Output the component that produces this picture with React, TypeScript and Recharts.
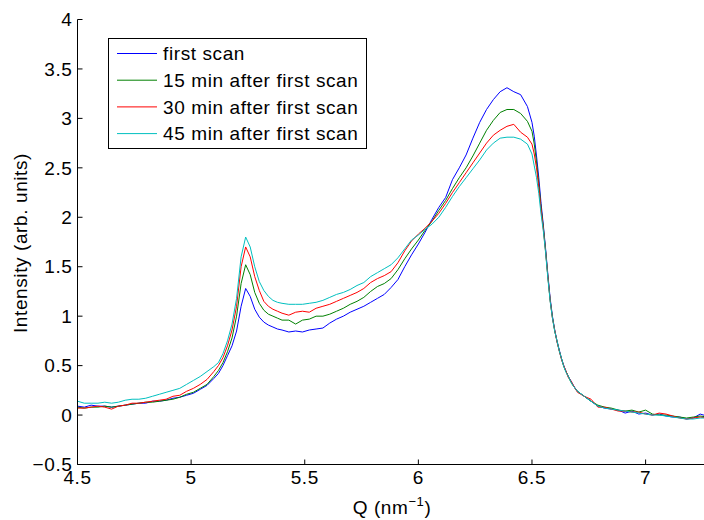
import { LineChart, Line, XAxis, YAxis, Legend } from 'recharts';

// Q grid (nm^-1), finer around the two peaks
const q = [
  4.5, 4.53, 4.56, 4.59, 4.62, 4.65, 4.68, 4.71, 4.74, 4.77, 4.8, 4.83, 4.86, 4.89, 4.92, 4.95, 4.98, 5.01, 5.04, 5.07, 5.1,
  5.12, 5.14, 5.16, 5.18, 5.2, 5.22, 5.24, 5.26, 5.28, 5.3, 5.32, 5.34, 5.36, 5.38, 5.4,
  5.43, 5.46, 5.49, 5.52, 5.55, 5.58, 5.61, 5.64, 5.67, 5.7, 5.73, 5.76, 5.79, 5.82, 5.85, 5.88, 5.91, 5.94, 5.97, 6.0,
  6.03, 6.06, 6.09, 6.12, 6.15, 6.18, 6.21, 6.24, 6.27, 6.3, 6.33, 6.36, 6.39, 6.42, 6.45, 6.48,
  6.5, 6.51, 6.52, 6.53, 6.54, 6.55, 6.56, 6.57, 6.58, 6.59, 6.6, 6.61, 6.62, 6.63, 6.64, 6.65, 6.66, 6.67, 6.68, 6.69, 6.7,
  6.73, 6.76, 6.79, 6.82, 6.85, 6.88, 6.91, 6.94, 6.97, 7.0, 7.03, 7.06, 7.09, 7.12, 7.15, 7.18, 7.21, 7.24, 7.27,
];

const scan0 = [
  0.09, 0.08, 0.1, 0.09, 0.09, 0.08, 0.09, 0.1, 0.11, 0.12, 0.12, 0.14, 0.14, 0.15, 0.17, 0.18, 0.2, 0.22, 0.26, 0.3, 0.37,
  0.42, 0.5, 0.6, 0.7, 0.85, 1.1, 1.28, 1.2, 1.07, 0.99, 0.94, 0.91, 0.89, 0.87, 0.86,
  0.84, 0.85, 0.84, 0.86, 0.87, 0.88, 0.93, 0.97, 1.0, 1.04, 1.07, 1.1, 1.14, 1.18, 1.22, 1.29, 1.37, 1.5, 1.62, 1.73,
  1.85, 1.98, 2.1, 2.2, 2.38, 2.5, 2.63, 2.8, 2.96, 3.09, 3.19, 3.27, 3.31, 3.27, 3.24, 3.12,
  2.96, 2.82, 2.62, 2.4, 2.14, 1.92, 1.68, 1.42, 1.18, 1.0, 0.86, 0.75, 0.66, 0.57, 0.5, 0.44, 0.39, 0.35, 0.31, 0.27, 0.24,
  0.19, 0.14, 0.09, 0.07, 0.06, 0.05, 0.02, 0.04, 0.01, 0.02, 0.0, 0.01, -0.01, -0.02, -0.02, -0.04, -0.03, 0.01, -0.01,
];

const scan15 = [
  0.08, 0.07, 0.08, 0.08, 0.09, 0.08, 0.09, 0.1, 0.11, 0.12, 0.13, 0.13, 0.14, 0.15, 0.16, 0.18, 0.21, 0.23, 0.27, 0.31, 0.39,
  0.45, 0.53, 0.64, 0.78, 1.0, 1.33, 1.52, 1.42, 1.24, 1.13, 1.06, 1.02, 1.0, 0.98, 0.96,
  0.96, 0.92, 0.96, 0.97, 1.0, 1.0, 1.02, 1.05, 1.08, 1.12, 1.15, 1.19, 1.25, 1.3, 1.33, 1.38, 1.47, 1.58, 1.68, 1.77,
  1.87, 1.96, 2.07, 2.17, 2.29, 2.4, 2.5, 2.62, 2.75, 2.88, 2.98, 3.06, 3.09, 3.09, 3.05, 2.97,
  2.87, 2.74, 2.56, 2.34, 2.1, 1.9, 1.66, 1.4, 1.16, 0.99, 0.85, 0.75, 0.65, 0.57, 0.49, 0.44, 0.39, 0.34, 0.3, 0.27, 0.24,
  0.19, 0.14, 0.1, 0.08, 0.07, 0.05, 0.04, 0.05, 0.03, 0.05, 0.01, 0.0, 0.0, -0.01, -0.02, -0.03, -0.02, -0.01, -0.02,
];

const scan30 = [
  0.07, 0.07, 0.08, 0.09, 0.08, 0.06, 0.09, 0.1, 0.12, 0.12, 0.13, 0.14, 0.15, 0.16, 0.19, 0.2, 0.24, 0.27, 0.31, 0.36, 0.44,
  0.5, 0.58, 0.7, 0.86, 1.1, 1.5, 1.7, 1.6, 1.4, 1.26, 1.15, 1.1, 1.07, 1.05, 1.03,
  1.01, 1.04, 1.05, 1.04, 1.08, 1.1, 1.12, 1.15, 1.18, 1.21, 1.24, 1.28, 1.34, 1.38, 1.41, 1.45, 1.54, 1.66, 1.76, 1.83,
  1.89, 1.96, 2.04, 2.14, 2.25, 2.35, 2.45, 2.55, 2.65, 2.75, 2.83, 2.88, 2.92, 2.94, 2.86, 2.81,
  2.74, 2.64, 2.5, 2.3, 2.08, 1.88, 1.65, 1.4, 1.16, 0.98, 0.86, 0.74, 0.65, 0.56, 0.5, 0.44, 0.38, 0.35, 0.31, 0.27, 0.23,
  0.19, 0.16, 0.08, 0.08, 0.06, 0.04, 0.04, 0.03, 0.03, 0.01, 0.0, 0.02, 0.01, -0.01, -0.03, -0.04, -0.03, -0.02, -0.03,
];

const scan45 = [
  0.14, 0.12, 0.12, 0.12, 0.13, 0.12, 0.13, 0.15, 0.16, 0.16, 0.17, 0.19, 0.21, 0.23, 0.25, 0.27, 0.31, 0.35, 0.39, 0.44, 0.49,
  0.53, 0.62, 0.75, 0.92, 1.18, 1.6, 1.8, 1.7, 1.5, 1.35, 1.26, 1.2, 1.16, 1.14, 1.13,
  1.12, 1.12, 1.12, 1.13, 1.14, 1.16, 1.19, 1.22, 1.24, 1.27, 1.31, 1.34, 1.4, 1.44, 1.48, 1.52, 1.59, 1.68, 1.77, 1.82,
  1.88, 1.93, 2.0, 2.1, 2.21, 2.31, 2.4, 2.49, 2.58, 2.68, 2.75, 2.8, 2.81, 2.81, 2.79, 2.74,
  2.64, 2.52, 2.4, 2.24, 2.03, 1.86, 1.64, 1.38, 1.15, 0.98, 0.85, 0.75, 0.65, 0.57, 0.49, 0.43, 0.39, 0.34, 0.3, 0.27, 0.24,
  0.19, 0.14, 0.09, 0.07, 0.06, 0.05, 0.04, 0.03, 0.02, 0.01, 0.0, 0.0, -0.01, -0.02, -0.03, -0.04, -0.04, -0.03, -0.03,
];

const seriesNames = ['first scan', '15 min after first scan', '30 min after first scan', '45 min after first scan'];
const seriesColors = ['#0000ff', '#008000', '#ff0000', '#00bfbf'];
const xTicks = [4.5, 5, 5.5, 6, 6.5, 7];
const yTicks = [-0.5, 0, 0.5, 1, 1.5, 2, 2.5, 3, 3.5, 4];

const data = q.map((v, i) => ({ q: v, s0: scan0[i], s15: scan15[i], s30: scan30[i], s45: scan45[i] }));
const keys = ['s0', 's15', 's30', 's45'];

const font = '"Liberation Sans", Arial, sans-serif';
const fs = 19;
const ls = 0.6;

const fmtY = (v: number) => (v < 0 ? '\u2212' + Math.abs(v) : String(v));

const LegendBox = () => (
  <svg width={260} height={112} style={{ display: 'block' }}>
    <rect x={0.5} y={0.5} width={258} height={110} fill="#fff" stroke="#000" />
    {seriesNames.map((n, i) => {
      const y = 15.5 + i * 26.7;
      return (
        <g key={n}>
          <line x1={9} x2={49} y1={y} y2={y} stroke={seriesColors[i]} strokeWidth={1} />
          <text x={55} y={y} dy="0.36em" fontFamily={font} fontSize={fs} letterSpacing={ls} fill="#000">
            {n}
          </text>
        </g>
      );
    })}
  </svg>
);

export default function App() {
  return (
    <div style={{ position: 'fixed', left: 0, top: 0, width: 704, height: 520, overflow: 'hidden', background: '#fff' }}>
      <LineChart width={707} height={520} data={data} margin={{ top: 19.5, right: 0.5, left: 0, bottom: 0 }}>
        <XAxis
          dataKey="q"
          type="number"
          domain={[4.5, 7.268]}
          ticks={xTicks}
          allowDataOverflow
          height={55.5}
          tickSize={-5}
          tickMargin={11.5}
          axisLine={{ stroke: '#000' }}
          tickLine={{ stroke: '#000' }}
          tick={{ fill: '#000', fontSize: fs, fontFamily: font, letterSpacing: ls }}
          label={() => (
            <text x={392} y={514} textAnchor="middle" fontFamily={font} fontSize={fs} letterSpacing={ls} fill="#000">
              <tspan>Q (nm</tspan>
              <tspan dy={-8} fontSize={13}>{'\u22121'}</tspan>
              <tspan dy={8}>)</tspan>
            </text>
          )}
        />
        <XAxis
          xAxisId="top"
          orientation="top"
          dataKey="q"
          type="number"
          domain={[4.5, 7.268]}
          ticks={xTicks}
          allowDataOverflow
          height={0}
          tickSize={-5}
          tickFormatter={() => ''}
          axisLine={{ stroke: '#000' }}
          tickLine={{ stroke: '#000' }}
        />
        <YAxis
          type="number"
          domain={[-0.5, 4]}
          ticks={yTicks}
          allowDataOverflow
          width={77.5}
          tickSize={-5}
          tickMargin={10}
          tickFormatter={fmtY}
          axisLine={{ stroke: '#000' }}
          tickLine={{ stroke: '#000' }}
          tick={{ fill: '#000', fontSize: fs, fontFamily: font, letterSpacing: ls }}
          label={() => (
            <text
              x={20}
              y={243}
              transform="rotate(-90 20 243)"
              textAnchor="middle"
              dominantBaseline="central"
              fontFamily={font}
              fontSize={fs}
              letterSpacing={ls}
              fill="#000"
            >
              Intensity (arb. units)
            </text>
          )}
        />
        <Legend
          layout="vertical"
          align="center"
          verticalAlign="middle"
          wrapperStyle={{ position: 'absolute', left: 108, top: 38, width: 260, height: 112 }}
          content={() => <LegendBox />}
        />
        {keys.map((k, i) => (
          <Line
            key={k}
            dataKey={k}
            name={seriesNames[i]}
            type="linear"
            stroke={seriesColors[i]}
            strokeWidth={1}
            dot={false}
            activeDot={false}
            isAnimationActive={false}
          />
        ))}
      </LineChart>
    </div>
  );
}
